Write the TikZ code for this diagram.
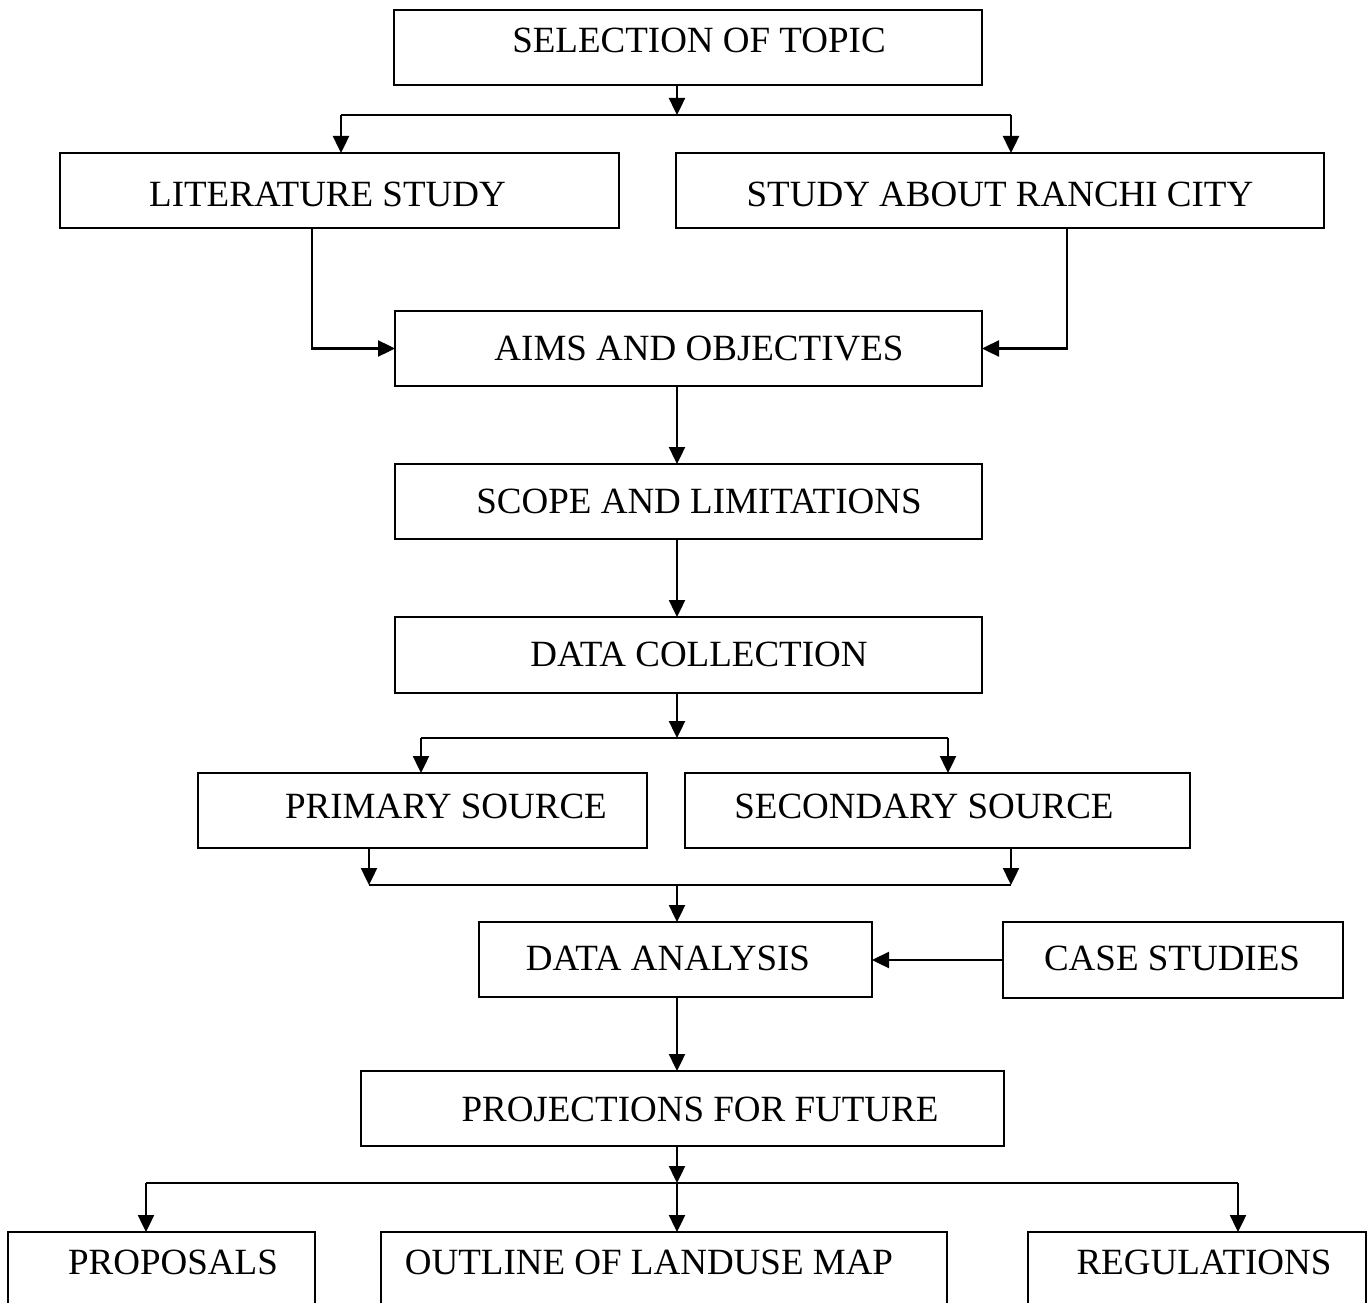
\documentclass[tikz,border=0pt]{standalone}
\usepackage{fontspec}
\setmainfont{Liberation Serif}
\usetikzlibrary{arrows.meta}
\begin{document}
\begin{tikzpicture}[x=1pt,y=-1pt,
 box/.style={draw, line width=2pt, inner sep=0pt, outer sep=0pt},
 txt/.style={anchor=base, inner sep=0pt, font=\fontsize{37}{44}\selectfont},
 arr/.style={line width=2.4pt, -{Triangle[length=17pt,width=16pt]}},
 ln/.style={line width=2.4pt}]
\useasboundingbox (0,0) rectangle (1369,1303);
% boxes
\node[box, minimum width=588pt, minimum height=75pt] (sel) at (688,47.5) {};
\node[box, minimum width=559pt, minimum height=75pt] (lit) at (339.5,190.5) {};
\node[box, minimum width=648pt, minimum height=75pt] (ranchi) at (1000,190.5) {};
\node[box, minimum width=587pt, minimum height=75pt] (aims) at (688.5,348.5) {};
\node[box, minimum width=587pt, minimum height=75pt] (scope) at (688.5,501.5) {};
\node[box, minimum width=587pt, minimum height=76pt] (dc) at (688.5,655) {};
\node[box, minimum width=449pt, minimum height=75pt] (prim) at (422.5,810.5) {};
\node[box, minimum width=505pt, minimum height=75pt] (sec) at (937.5,810.5) {};
\node[box, minimum width=393pt, minimum height=75pt] (da) at (675.5,959.5) {};
\node[box, minimum width=340pt, minimum height=76pt] (cs) at (1173,960) {};
\node[box, minimum width=643pt, minimum height=75pt] (proj) at (682.5,1108.5) {};
\node[box, minimum width=307pt, minimum height=98pt] (prop) at (161.5,1281) {};
\node[box, minimum width=566pt, minimum height=98pt] (out) at (664,1281) {};
\node[box, minimum width=338pt, minimum height=98pt] (reg) at (1197,1281) {};
% texts
\node[txt] (selT) at (699,52.5) {SELECTION OF TOPIC};
\node[txt] (litT) at (327.5,206.5) {LITERATURE STUDY};
\node[txt] (ranchiT) at (1000,206.5) {STUDY ABOUT RANCHI CITY};
\node[txt] (aimsT) at (699,360.5) {AIMS AND OBJECTIVES};
\node[txt] (scopeT) at (699,513.5) {SCOPE AND LIMITATIONS};
\node[txt] (dcT) at (699,666.5) {DATA COLLECTION};
\node[txt] (primT) at (446,818.5) {PRIMARY SOURCE};
\node[txt] (secT) at (924,818.5) {SECONDARY SOURCE};
\node[txt] (daT) at (668,970.5) {DATA ANALYSIS};
\node[txt] (csT) at (1172,970.5) {CASE STUDIES};
\node[txt] (projT) at (700,1121.5) {PROJECTIONS FOR FUTURE};
\node[txt] (propT) at (173,1274.5) {PROPOSALS};
\node[txt] (outT) at (649,1274.5) {OUTLINE OF LANDUSE MAP};
\node[txt] (regT) at (1204,1274.5) {REGULATIONS};
% coordinates
\coordinate (mx) at (677,0);
\coordinate (j1) at (677,115);
\coordinate (j1L) at (341,115);
\coordinate (j1R) at (1011,115);
\coordinate (litx) at (312,0);
\coordinate (rx) at (1067,0);
\coordinate (j2) at (677,738);
\coordinate (j2L) at (421,738);
\coordinate (j2R) at (948,738);
\coordinate (j3L) at (369,885);
\coordinate (j3R) at (1011,885);
\coordinate (j4) at (677,1183);
\coordinate (j4L) at (146,1183);
\coordinate (j4R) at (1238,1183);
% connectors
\draw[arr] (mx |- sel.south) -- (j1);
\draw[ln] (j1L) -- (j1R);
\draw[arr] (j1L) -- (j1L |- lit.north);
\draw[arr] (j1R) -- (j1R |- ranchi.north);
\draw[arr] (litx |- lit.south) |- (aims.west);
\draw[arr] (rx |- ranchi.south) |- (aims.east);
\draw[arr] (mx |- aims.south) -- (mx |- scope.north);
\draw[arr] (mx |- scope.south) -- (mx |- dc.north);
\draw[arr] (mx |- dc.south) -- (j2);
\draw[ln] (j2L) -- (j2R);
\draw[arr] (j2L) -- (j2L |- prim.north);
\draw[arr] (j2R) -- (j2R |- sec.north);
\draw[arr] (j3L |- prim.south) -- (j3L);
\draw[arr] (j3R |- sec.south) -- (j3R);
\draw[ln] (j3L) -- (j3R);
\draw[arr] (mx |- j3L) -- (mx |- da.north);
\draw[arr] (cs.west) -- (cs.west -| da.east);
\draw[arr] (mx |- da.south) -- (mx |- proj.north);
\draw[arr] (mx |- proj.south) -- (j4);
\draw[ln] (j4L) -- (j4R);
\draw[arr] (j4L) -- (j4L |- prop.north);
\draw[arr] (j4) -- (mx |- out.north);
\draw[arr] (j4R) -- (j4R |- reg.north);
\end{tikzpicture}
\end{document}
